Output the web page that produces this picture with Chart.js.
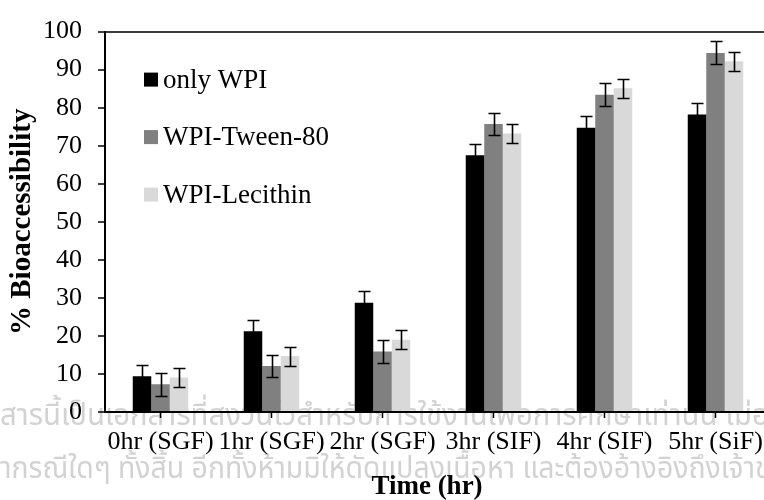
<!DOCTYPE html>
<html>
<head>
<meta charset="utf-8">
<script src="https://cdn.jsdelivr.net/npm/chart.js@4.4.0/dist/chart.umd.min.js"></script>
<style>
  html, body { margin: 0; padding: 0; background: #ffffff; overflow: hidden; }
  #wrap { width: 790px; height: 500px; position: relative; }
</style>
</head>
<body>
<div id="wrap"><canvas id="chart"></canvas></div>
<script>
// Sampling times through simulated digestion
const categories = ['0hr (SGF)', '1hr (SGF)', '2hr (SGF)', '3hr (SIF)', '4hr (SIF)', '5hr (SiF)'];
const seriesNames = ['only WPI', 'WPI-Tween-80', 'WPI-Lecithin'];

// % bioaccessibility (mean) and standard deviation per formulation
const onlyWPI      = [9.4, 21.2, 28.7, 67.5, 74.7, 78.2];
const onlyWPIErr   = [3.0, 3.1, 3.1, 3.0, 3.1, 3.0];
const tween80      = [7.3, 12.1, 15.9, 75.7, 83.4, 94.4];
const tween80Err   = [3.0, 3.0, 3.0, 3.0, 3.0, 3.0];
const lecithin     = [9.1, 14.7, 19.0, 73.2, 85.1, 92.2];
const lecithinErr  = [2.5, 2.5, 2.5, 2.5, 2.5, 2.5];

const yTicks = [0, 10, 20, 30, 40, 50, 60, 70, 80, 90, 100];
const seriesColors = ['#000000', '#808080', '#d9d9d9'];

const SERIF = "'Liberation Serif', 'Times New Roman', serif";

// Watermark lines printed across the lower part of the page
const markLine1 = { lead: 'เอก', text: 'สารนี้เป็นเอกสารที่สงวนไว้สำหรับการใช้งานเพื่อการศึกษาเท่านั้น ไม่', tail: 'อนุญาตให้นำไปใช้ประโยชน์' };
const markLine2 = { lead: 'ไม่ว่', text: 'ากรณีใดๆ ทั้งสิ้น อีกทั้งห้ามมิให้ดัดแปลงเนื้อหา และต้องอ้างอิงถึงเจ้า', tail: 'ของผลงาน' };

const watermark = {
  id: 'watermark',
  beforeDraw(chart) {
    const ctx = chart.ctx;
    ctx.save();
    ctx.fillStyle = '#d2d2d2';
    ctx.font = "30px 'Noto Sans Thai', 'Noto Sans', 'DejaVu Sans', sans-serif";
    ctx.textBaseline = 'alphabetic';
    ctx.textAlign = 'left';
    [[markLine1, 425, 752], [markLine2, 478, 755]].forEach(([ln, base, span]) => {
      const wLead = ctx.measureText(ln.lead).width;
      const wText = ctx.measureText(ln.text).width;
      const sx = span / wText;
      ctx.save();
      ctx.translate(0, base);
      ctx.scale(sx, 1);
      ctx.fillText(ln.lead + ln.text + ln.tail, -wLead, 0);
      ctx.restore();
    });
    ctx.restore();
  }
};

// Symmetric error bars with caps, placed through the y scale
const errorBars = {
  id: 'errorBars',
  afterDatasetsDraw(chart) {
    const ctx = chart.ctx;
    const y = chart.scales.y;
    ctx.save();
    ctx.strokeStyle = '#000000';
    ctx.lineWidth = 1.6;
    chart.data.datasets.forEach((ds, i) => {
      const meta = chart.getDatasetMeta(i);
      meta.data.forEach((bar, j) => {
        const v = ds.data[j], e = ds.errors[j];
        const top = Math.round(y.getPixelForValue(v + e)) + 0.5;
        const bot = Math.round(y.getPixelForValue(v - e)) + 0.5;
        const x = Math.round(bar.x) + 0.5;
        ctx.beginPath();
        ctx.moveTo(x, top); ctx.lineTo(x, bot);
        ctx.moveTo(x - 6, top); ctx.lineTo(x + 6, top);
        ctx.moveTo(x - 6, bot); ctx.lineTo(x + 6, bot);
        ctx.stroke();
      });
    });
    ctx.restore();
  }
};

// Legend drawn as a column inside the plot area
const insideLegend = {
  id: 'insideLegend',
  afterDraw(chart) {
    const ctx = chart.ctx;
    const a = chart.chartArea;
    ctx.save();
    ctx.font = '27px ' + SERIF;
    ctx.textBaseline = 'middle';
    ctx.textAlign = 'left';
    chart.data.datasets.forEach((ds, i) => {
      const cy = a.top + 48 + i * 57.5;
      ctx.fillStyle = ds.backgroundColor;
      ctx.fillRect(a.left + 39, cy - 7, 14, 14);
      ctx.fillStyle = '#000000';
      ctx.fillText(ds.label, a.left + 58, cy + 1);
    });
    ctx.restore();
  }
};

// Horizontal axis title
const xTitle = {
  id: 'xTitle',
  afterDraw(chart) {
    const ctx = chart.ctx;
    const a = chart.chartArea;
    ctx.save();
    ctx.font = 'bold 27px ' + SERIF;
    ctx.fillStyle = '#000000';
    ctx.textAlign = 'center';
    ctx.textBaseline = 'alphabetic';
    ctx.fillText('Time (hr)', (a.left + a.right) / 2 - 11, 494);
    ctx.restore();
  }
};

const values = [onlyWPI, tween80, lecithin];
const errors = [onlyWPIErr, tween80Err, lecithinErr];

new Chart(document.getElementById('chart'), {
  type: 'bar',
  data: {
    labels: categories,
    datasets: seriesNames.map((name, i) => ({
      label: name,
      data: values[i],
      errors: errors[i],
      backgroundColor: seriesColors[i],
      borderWidth: 0,
      categoryPercentage: 0.5,
      barPercentage: 1.0
    }))
  },
  options: {
    responsive: true,
    maintainAspectRatio: false,
    animation: false,
    layout: { padding: { top: 25, right: 19, left: 0, bottom: 0 } },
    plugins: {
      legend: { display: false },
      tooltip: { enabled: false },
      title: { display: false }
    },
    scales: {
      x: {
        offset: true,
        grid: {
          offset: false,
          drawOnChartArea: false,
          drawTicks: true,
          tickLength: 6,
          tickColor: '#000000',
          tickWidth: 1.5
        },
        border: { display: true, color: '#000000', width: 2 },
        ticks: {
          autoSkip: false,
          maxRotation: 0,
          minRotation: 0,
          padding: 9,
          color: '#000000',
          font: { family: SERIF, size: 26 }
        },
        afterFit(scale) { scale.height = 88; }
      },
      y: {
        min: 0,
        max: 100,
        afterBuildTicks(scale) { scale.ticks = yTicks.map(v => ({ value: v })); },
        grid: {
          color: ctx => (ctx.tick && ctx.tick.value === 100 ? '#3c3c3c' : 'rgba(0,0,0,0)'),
          lineWidth: 2,
          drawTicks: true,
          tickLength: 7,
          tickColor: '#000000',
          tickWidth: 1.5
        },
        border: { display: true, color: '#000000', width: 2 },
        ticks: {
          padding: 16,
          color: '#000000',
          font: { family: SERIF, size: 26 }
        },
        title: {
          display: true,
          text: '% Bioaccessibility',
          color: '#000000',
          font: { family: SERIF, size: 29, weight: 'bold' },
          padding: { top: 5, bottom: 0 }
        },
        afterFit(scale) { scale.width = 105; }
      }
    }
  },
  plugins: [watermark, errorBars, insideLegend, xTitle]
});
</script>
</body>
</html>
